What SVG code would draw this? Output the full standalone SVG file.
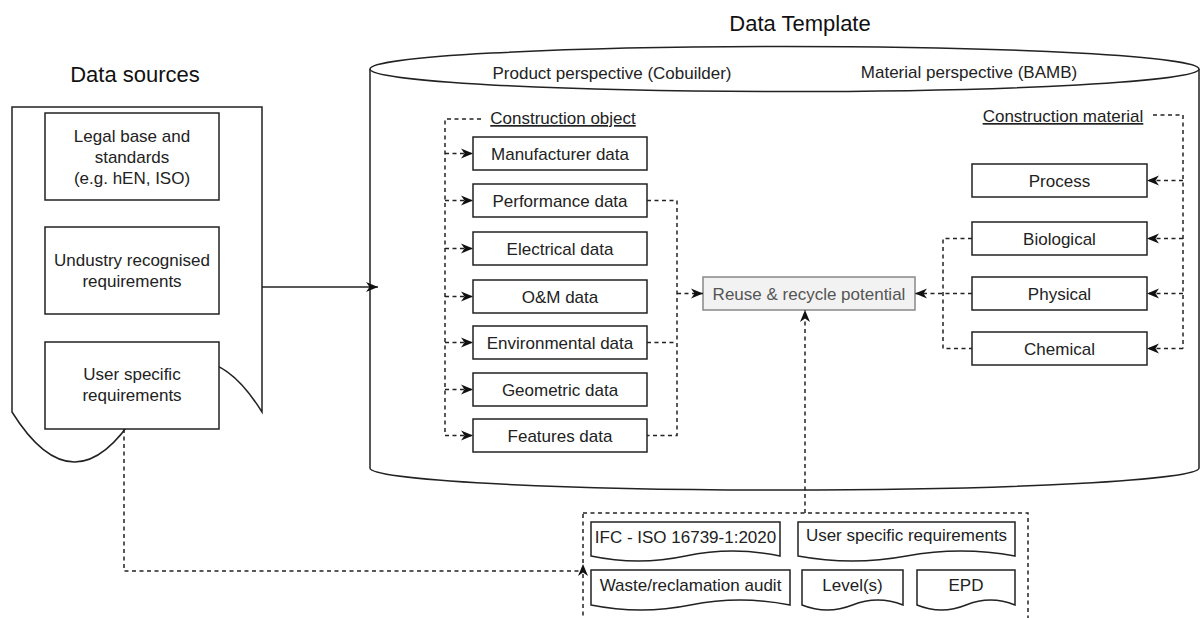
<svg xmlns="http://www.w3.org/2000/svg" width="1200" height="618" viewBox="0 0 1200 618">
<style>
text{font-family:"Liberation Sans",Arial,sans-serif;font-size:17px;fill:#222;text-anchor:middle}
.t{font-size:22px;fill:#111}
.box{fill:#fff;stroke:#222;stroke-width:1.5}
.doc{fill:#fff;stroke:#222;stroke-width:1.5}
.d{fill:none;stroke:#222;stroke-width:1.5;stroke-dasharray:4 3.5}
.s{fill:none;stroke:#222;stroke-width:1.5}
.u{text-decoration:underline}
</style>
<defs>
<marker id="ah" markerWidth="13" markerHeight="11" refX="12" refY="5.5" orient="auto" markerUnits="userSpaceOnUse">
<path d="M0,0.5 L12,5.5 L0,10.5 L3.5,5.5 Z" fill="#111"/>
</marker>
</defs>
<rect width="1200" height="618" fill="#fff"/>

<text class="t" x="800" y="31">Data Template</text>
<text class="t" x="135" y="82">Data sources</text>

<g id="data-sources">
<path class="doc" d="M12,107 H262 V412 Q199.5,312 137,412 Q74.5,512 12,412 Z"/>
</g>
<g id="legal-base">
<rect class="box" x="45" y="113" width="174" height="87"/>
<text x="132" y="142">Legal base and</text>
<text x="132" y="163">standards</text>
<text x="132" y="184">(e.g. hEN, ISO)</text>
</g>
<g id="industry-req">
<rect class="box" x="45" y="227" width="174" height="87"/>
<text x="132" y="266">Undustry recognised</text>
<text x="132" y="287">requirements</text>
</g>
<g id="user-req">
<rect class="box" x="45" y="342" width="174" height="87"/>
<text x="132" y="380">User specific</text>
<text x="132" y="401">requirements</text>
</g>

<g id="data-template">
<path class="s" d="M370,69 V468 A414.5,22 0 0 0 1199,468 V69" fill="#fff"/>
<ellipse class="s" cx="784.5" cy="69" rx="414.5" ry="22.5" fill="#fff"/>
<text x="612" y="79">Product perspective (Cobuilder)</text>
<text x="969" y="78">Material perspective (BAMB)</text>
</g>

<g id="construction-object"><text class="u" x="563" y="124">Construction object</text></g>
<g id="construction-material"><text class="u" x="1063" y="122">Construction material</text></g>

<g id="manufacturer"><rect class="box" x="473" y="137" width="174" height="33"/><text x="560" y="159.5">Manufacturer data</text></g>
<g id="performance"><rect class="box" x="473" y="184" width="174" height="33"/><text x="560" y="206.5">Performance data</text></g>
<g id="electrical"><rect class="box" x="473" y="232" width="174" height="33"/><text x="560" y="254.5">Electrical data</text></g>
<g id="om"><rect class="box" x="473" y="280" width="174" height="33"/><text x="560" y="302.5">O&amp;M data</text></g>
<g id="environmental"><rect class="box" x="473" y="326" width="174" height="33"/><text x="560" y="348.5">Environmental data</text></g>
<g id="geometric"><rect class="box" x="473" y="373" width="174" height="33"/><text x="560" y="395.5">Geometric data</text></g>
<g id="features"><rect class="box" x="473" y="419" width="174" height="33"/><text x="560" y="441.5">Features data</text></g>

<g id="reuse"><rect x="703" y="277" width="212" height="33" fill="#f2f2f2" stroke="#888" stroke-width="1.5"/><text x="809" y="299.5" style="fill:#555">Reuse &amp; recycle potential</text></g>

<g id="process"><rect class="box" x="972" y="164" width="175" height="33"/><text x="1059.5" y="186.5">Process</text></g>
<g id="biological"><rect class="box" x="972" y="222" width="175" height="33"/><text x="1059.5" y="244.5">Biological</text></g>
<g id="physical"><rect class="box" x="972" y="277" width="175" height="33"/><text x="1059.5" y="299.5">Physical</text></g>
<g id="chemical"><rect class="box" x="972" y="332" width="175" height="33"/><text x="1059.5" y="354.5">Chemical</text></g>

<g id="sources-container"><rect class="d" x="583" y="513" width="445" height="120"/></g>
<g id="ifc"><path class="doc" d="M591,522 H780 V556 Q732.75,546 685.5,556 Q638.25,566 591,556 Z"/><text x="685.5" y="543">IFC - ISO 16739-1:2020</text></g>
<g id="user-req-doc"><path class="doc" d="M798,522 H1015 V556 Q960.75,546 906.5,556 Q852.25,566 798,556 Z"/><text x="906.5" y="541">User specific requirements</text></g>
<g id="waste"><path class="doc" d="M591,570 H790 V605 Q740.25,595 690.5,605 Q640.75,615 591,605 Z"/><text x="690.5" y="591">Waste/reclamation audit</text></g>
<g id="levels"><path class="doc" d="M802,570 H903 V605 Q877.75,595 852.5,605 Q827.25,615 802,605 Z"/><text x="852.5" y="591">Level(s)</text></g>
<g id="epd"><path class="doc" d="M917,570 H1015 V605 Q990.5,595 966,605 Q941.5,615 917,605 Z"/><text x="966" y="591">EPD</text></g>

<g id="connectors">
<path class="s" d="M262,287 H378" marker-end="url(#ah)"/>
<path class="d" d="M481,119 H445 V435.5"/>
<path class="d" d="M445,153.5 H473" marker-end="url(#ah)"/>
<path class="d" d="M445,200.5 H473" marker-end="url(#ah)"/>
<path class="d" d="M445,248.5 H473" marker-end="url(#ah)"/>
<path class="d" d="M445,296.5 H473" marker-end="url(#ah)"/>
<path class="d" d="M445,342.5 H473" marker-end="url(#ah)"/>
<path class="d" d="M445,389.5 H473" marker-end="url(#ah)"/>
<path class="d" d="M445,435.5 H473" marker-end="url(#ah)"/>
<path class="d" d="M647,200.5 H677 V435.5 H647"/>
<path class="d" d="M647,342.5 H677"/>
<path class="d" d="M677,293.5 H703" marker-end="url(#ah)"/>
<path class="d" d="M1153,115 H1183 V348.5"/>
<path class="d" d="M1183,180.5 H1147" marker-end="url(#ah)"/>
<path class="d" d="M1183,238.5 H1147" marker-end="url(#ah)"/>
<path class="d" d="M1183,293.5 H1147" marker-end="url(#ah)"/>
<path class="d" d="M1183,348.5 H1147" marker-end="url(#ah)"/>
<path class="d" d="M972,238.5 H943 V348.5 H972"/>
<path class="d" d="M972,293.5 H915" marker-end="url(#ah)"/>
<path class="d" d="M805,513 V310" marker-end="url(#ah)"/>
<path class="d" d="M124,429 V571 H583"/>
<path d="M583,564 L588,576 L583,572.5 L578,576 Z" fill="#111"/>
</g>
</svg>
